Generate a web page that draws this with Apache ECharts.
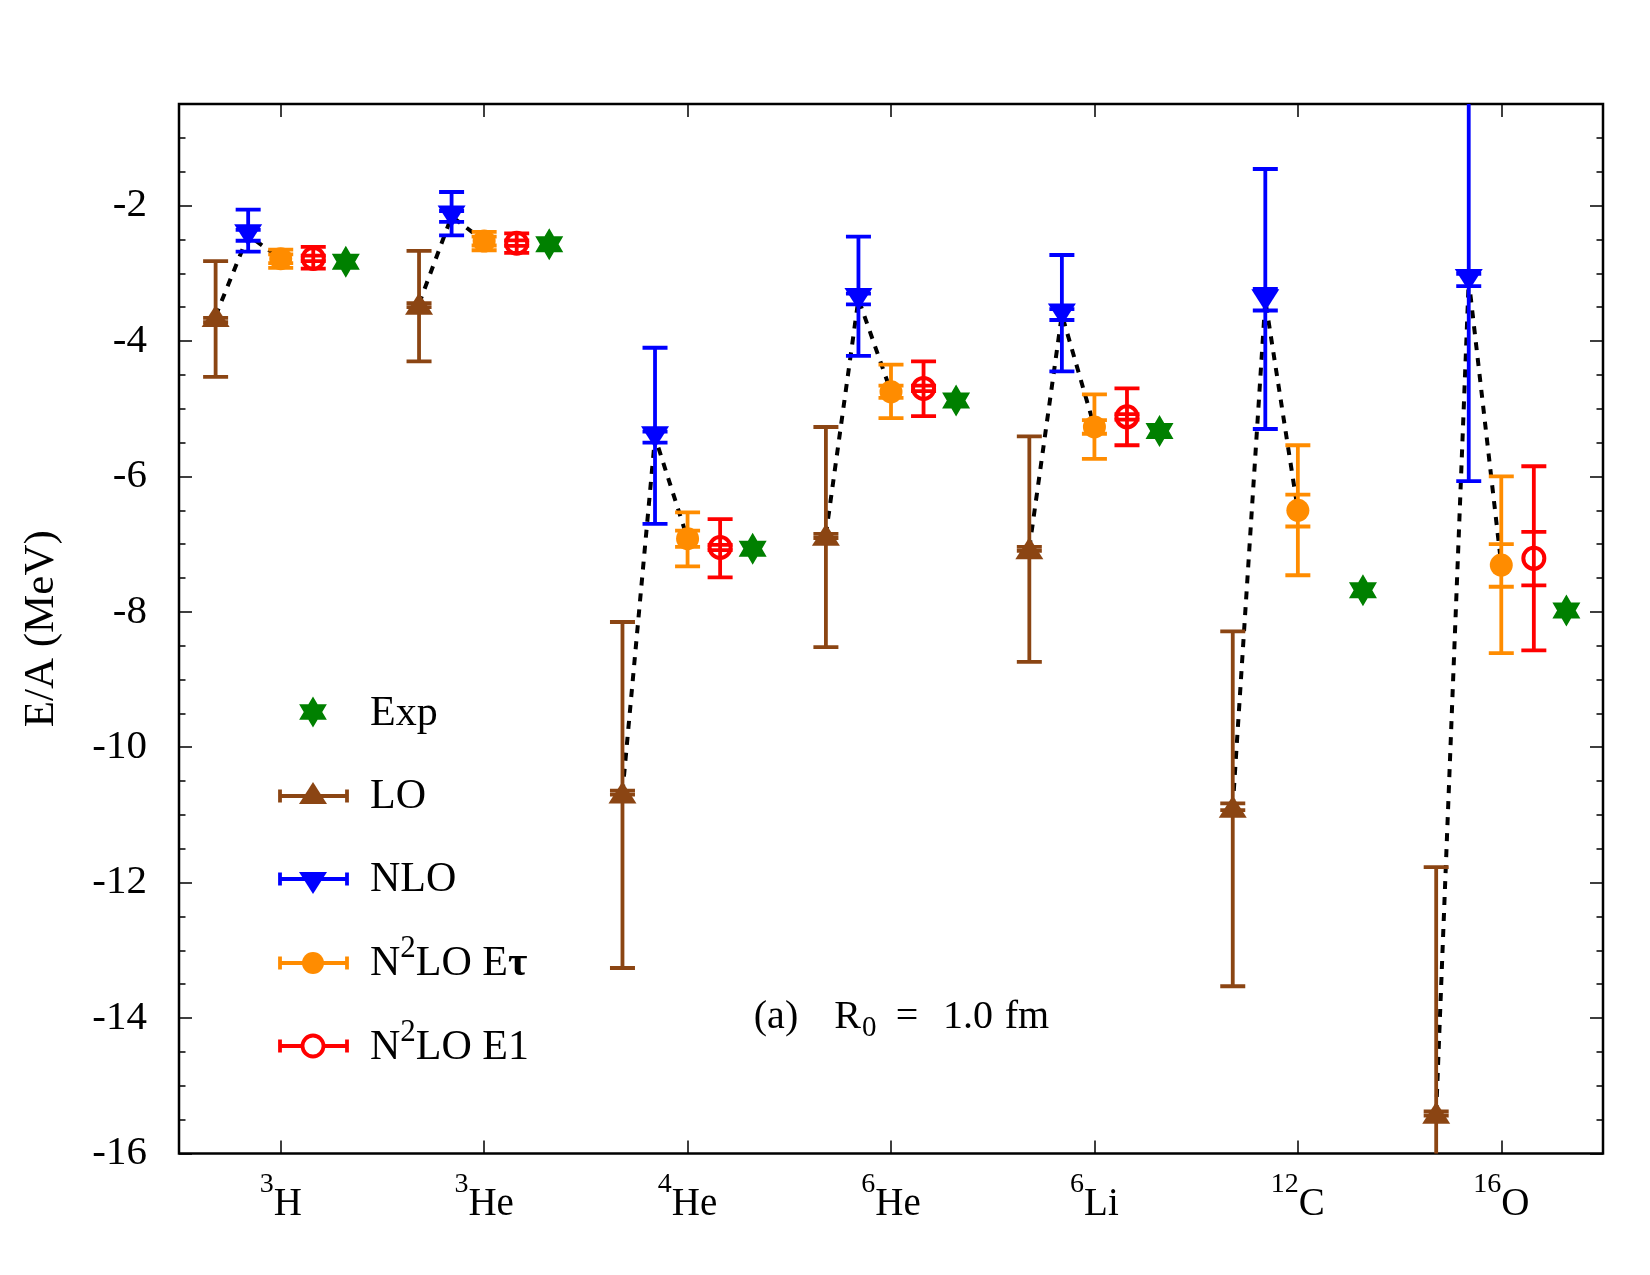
<!DOCTYPE html>
<html><head><meta charset="utf-8">
<script src="https://cdn.jsdelivr.net/npm/echarts@6/dist/echarts.min.js"></script>
<style>html,body{margin:0;padding:0;background:#fff}#c{width:1650px;height:1275px}</style>
</head><body><div id="c"></div>
<script>
// ---------------- data ----------------
const massNumbers    = ['3', '3', '4', '6', '6', '12', '16'];
const elementSymbols = ['H', 'He', 'He', 'He', 'Li', 'C', 'O'];
const nucleusNames   = ['3H', '3He', '4He', '6He', '6Li', '12C', '16O'];

const expValues = [-2.83, -2.57, -7.07, -4.88, -5.33, -7.68, -7.98];

const loValues     = [-3.63, -3.45, -10.67, -6.86, -7.06, -10.88, -15.40];
const loOuterLow   = [-4.53, -4.30, -13.26, -8.52, -8.74, -13.53, -19.20];
const loOuterHigh  = [-2.82, -2.67, -8.15, -5.27, -5.41, -8.29, -11.77];
const loInnerLow   = [-3.72, -3.50, -10.70, -6.91, -7.10, -10.93, -15.44];
const loInnerHigh  = [-3.66, -3.44, -10.64, -6.85, -7.04, -10.83, -15.38];

const nloValues    = [-2.44, -2.16, -5.42, -3.38, -3.61, -3.40, -3.10];
const nloOuterLow  = [-2.68, -2.44, -6.70, -4.22, -4.45, -5.30, -6.07];
const nloOuterHigh = [-2.06, -1.80, -4.10, -2.46, -2.73, -1.46, -0.10];
const nloInnerLow  = [-2.52, -2.24, -5.50, -3.46, -3.69, -3.55, -3.19];
const nloInnerHigh = [-2.36, -2.08, -5.34, -3.30, -3.53, -3.23, -3.01];

const tauValues    = [-2.785, -2.525, -6.92, -4.75, -5.27, -6.50, -7.31];
const tauOuterLow  = [-2.92, -2.66, -7.33, -5.14, -5.74, -7.46, -8.61];
const tauOuterHigh = [-2.65, -2.39, -6.53, -4.35, -4.79, -5.54, -6.00];
const tauInnerLow  = [-2.85, -2.59, -7.04, -4.84, -5.37, -6.74, -7.63];
const tauInnerHigh = [-2.72, -2.46, -6.80, -4.66, -5.17, -6.27, -7.00];

const e1Values     = [-2.78, -2.555, -7.05, -4.70, -5.12, null, -7.21];
const e1OuterLow   = [-2.93, -2.70, -7.49, -5.11, -5.54, null, -8.57];
const e1OuterHigh  = [-2.61, -2.41, -6.63, -4.30, -4.70, null, -5.85];
const e1InnerLow   = [-2.82, -2.595, -7.09, -4.74, -5.16, null, -7.61];
const e1InnerHigh  = [-2.74, -2.515, -7.01, -4.66, -5.08, null, -6.82];

// ---------------- layout / style ----------------
const OFFSET = { lo: -0.32, nlo: -0.16, tau: 0, e1: 0.16, exp: 0.32 };
const COLORS = { lo: '#8B4513', nlo: '#0000FF', tau: '#FF8C00', e1: '#FF0000', exp: '#008000' };
const FONT = "'Liberation Serif', 'DejaVu Serif', serif";
const CAP_HALF = 12.5;
const BAR_W = 3.8;

function hexagramPts(cx, cy, sx, sy) {
  const pts = [];
  for (let k = 0; k < 12; k++) {
    const a = (-90 + k * 30) * Math.PI / 180;
    const rad = k % 2 === 0 ? 1 : 1 / Math.sqrt(3);
    pts.push([cx + sx * rad * Math.cos(a), cy + sy * rad * Math.sin(a)]);
  }
  return pts;
}
const STAR = 'M' + hexagramPts(0, 0, 10, 10).map(p => p[0].toFixed(3) + ' ' + p[1].toFixed(3)).join(' L') + ' Z';

function rows(vals, oLo, oHi, iLo, iHi, off) {
  const out = [];
  vals.forEach((v, i) => {
    if (v === null) return;
    out.push([i + 1 + off, v, oLo[i], oHi[i], iLo[i], iHi[i]]);
  });
  return out;
}
function points(vals, off) {
  const out = [];
  vals.forEach((v, i) => { if (v !== null) out.push([i + 1 + off, v]); });
  return out;
}

function errorSeries(color, data) {
  return {
    type: 'custom', xAxisIndex: 0, yAxisIndex: 0, clip: true, z: 3, silent: true,
    data: data,
    encode: { x: 0, y: [1, 2, 3, 4, 5] },
    renderItem: function (params, api) {
      const x = api.value(0);
      const p = [2, 3, 4, 5].map(k => api.coord([x, api.value(k)]));
      const style = { stroke: color, lineWidth: BAR_W, fill: null };
      const children = [{ type: 'line', shape: { x1: p[0][0], y1: p[0][1], x2: p[1][0], y2: p[1][1] }, style: style }];
      p.forEach(q => children.push({ type: 'line', shape: { x1: q[0] - CAP_HALF, y1: q[1], x2: q[0] + CAP_HALF, y2: q[1] }, style: style }));
      return { type: 'group', children: children };
    }
  };
}

const connectorData = nucleusNames.map((n, i) => [i + 1, loValues[i], nloValues[i], tauValues[i]]);

const series = [
  {
    type: 'custom', xAxisIndex: 0, yAxisIndex: 0, clip: true, z: 2, silent: true,
    data: connectorData,
    encode: { x: 0, y: [1, 2, 3] },
    renderItem: function (params, api) {
      const c = api.value(0);
      const a = api.coord([c + OFFSET.lo, api.value(1)]);
      const b = api.coord([c + OFFSET.nlo, api.value(2)]);
      const d = api.coord([c + OFFSET.tau, api.value(3)]);
      return { type: 'polyline', shape: { points: [a, b, d] },
               style: { stroke: '#000', lineWidth: 4, lineDash: [8, 8], fill: null } };
    }
  },
  errorSeries(COLORS.lo, rows(loValues, loOuterLow, loOuterHigh, loInnerLow, loInnerHigh, OFFSET.lo)),
  errorSeries(COLORS.nlo, rows(nloValues, nloOuterLow, nloOuterHigh, nloInnerLow, nloInnerHigh, OFFSET.nlo)),
  errorSeries(COLORS.tau, rows(tauValues, tauOuterLow, tauOuterHigh, tauInnerLow, tauInnerHigh, OFFSET.tau)),
  errorSeries(COLORS.e1, rows(e1Values, e1OuterLow, e1OuterHigh, e1InnerLow, e1InnerHigh, OFFSET.e1)),
  { type: 'scatter', z: 4, silent: true, symbol: 'triangle', symbolSize: [28, 22],
    itemStyle: { color: COLORS.lo, opacity: 1 }, data: points(loValues, OFFSET.lo) },
  { type: 'scatter', z: 4, silent: true, symbol: 'triangle', symbolRotate: 180, symbolSize: [28, 22],
    itemStyle: { color: COLORS.nlo, opacity: 1 }, data: points(nloValues, OFFSET.nlo) },
  { type: 'scatter', z: 4, silent: true, symbol: 'circle', symbolSize: 23,
    itemStyle: { color: COLORS.tau, opacity: 1 }, data: points(tauValues, OFFSET.tau) },
  { type: 'scatter', z: 4, silent: true, symbol: 'circle', symbolSize: 21,
    itemStyle: { color: 'rgba(0,0,0,0)', borderColor: COLORS.e1, borderWidth: 4, opacity: 1 }, data: points(e1Values, OFFSET.e1) },
  { type: 'scatter', z: 4, silent: true, symbol: 'path://' + STAR, symbolSize: [28, 32],
    itemStyle: { color: COLORS.exp, opacity: 1 }, data: points(expValues, OFFSET.exp) }
];

const tickStyle = { color: '#000', width: 1.5 };
function yAx(pos, interval, len, labels) {
  const ax = {
    type: 'value', min: -16, max: -0.5, interval: interval, position: pos,
    axisLine: { show: false }, splitLine: { show: false },
    axisTick: { show: true, inside: true, length: len, lineStyle: tickStyle },
    axisLabel: { show: false }
  };
  if (labels) {
    ax.axisLabel = { show: true, showMaxLabel: false, margin: 32, fontSize: 41, fontFamily: FONT, color: '#000' };
    ax.name = 'E/A (MeV)';
    ax.nameLocation = 'middle';
    ax.nameGap = 116;
    ax.nameRotate = 90;
    ax.nameTextStyle = { fontSize: 43, fontFamily: FONT, color: '#000' };
  }
  return ax;
}
function xCat(pos, labels) {
  return {
    type: 'category', data: nucleusNames, position: pos, boundaryGap: true, gridIndex: 0,
    axisLine: { show: false }, splitLine: { show: false },
    axisTick: { show: true, inside: true, alignWithLabel: true, length: 13, lineStyle: tickStyle },
    axisLabel: labels ? {
      show: true, interval: 0, margin: 17,
      formatter: (v, i) => '{s|' + massNumbers[i] + '}{m|' + elementSymbols[i] + '}',
      rich: {
        s: { fontSize: 28, fontFamily: FONT, color: '#000', padding: [0, 0, 40, 0] },
        m: { fontSize: 39, fontFamily: FONT, color: '#000' }
      }
    } : { show: false }
  };
}

// legend (drawn as graphic)
const LEG_X0 = 280, LEG_X1 = 347, LEG_MX = 313, LEG_TX = 370;
function legendBar(y, color) {
  const st = { stroke: color, lineWidth: BAR_W };
  return [
    { type: 'line', shape: { x1: LEG_X0, y1: y, x2: LEG_X1, y2: y }, style: st },
    { type: 'line', shape: { x1: LEG_X0, y1: y - 6.5, x2: LEG_X0, y2: y + 6.5 }, style: st },
    { type: 'line', shape: { x1: LEG_X1, y1: y - 6.5, x2: LEG_X1, y2: y + 6.5 }, style: st }
  ];
}
function legendText(y, text, rich) {
  const st = { text: text, fontSize: 42, fontFamily: FONT, fill: '#000', align: 'left', verticalAlign: 'middle' };
  if (rich) st.rich = rich;
  return { type: 'text', x: LEG_TX, y: y, style: st };
}
const supRich = {
  m: { fontSize: 42, fontFamily: FONT, fill: '#000' },
  s: { fontSize: 31, fontFamily: FONT, fill: '#000', padding: [0, 0, 30, 0] },
  t: { fontSize: 42, fontFamily: FONT, fill: '#000', fontWeight: 'bold' }
};
function annText(x, y, text, size, align) {
  return { type: 'text', x: x, y: y, style: { text: text, fontSize: size, fontFamily: FONT, fill: '#000', align: align || 'center', verticalAlign: 'middle' } };
}

const graphics = [].concat(
  [{ type: 'polygon', shape: { points: hexagramPts(LEG_MX, 712, 16, 15.5) }, style: { fill: COLORS.exp } },
   legendText(714, 'Exp')],
  legendBar(796, COLORS.lo),
  [{ type: 'polygon', shape: { points: [[LEG_MX - 14, 804], [LEG_MX + 14, 804], [LEG_MX, 782]] }, style: { fill: COLORS.lo } },
   legendText(797, 'LO')],
  legendBar(879, COLORS.nlo),
  [{ type: 'polygon', shape: { points: [[LEG_MX - 14, 872], [LEG_MX + 14, 872], [LEG_MX, 894]] }, style: { fill: COLORS.nlo } },
   legendText(880, 'NLO')],
  legendBar(963, COLORS.tau),
  [{ type: 'circle', shape: { cx: LEG_MX, cy: 963, r: 11 }, style: { fill: COLORS.tau } },
   legendText(964, '{m|N}{s|2}{m|LO E}{t|τ}', supRich)],
  legendBar(1046, COLORS.e1),
  [{ type: 'circle', shape: { cx: LEG_MX, cy: 1046, r: 10.5 }, style: { fill: '#fff', stroke: COLORS.e1, lineWidth: 3.8 } },
   legendText(1048, '{m|N}{s|2}{m|LO E1}', supRich)],
  [
    annText(776, 1017, '(a)', 40),
    annText(861, 1017, 'R', 40, 'right'),
    annText(862, 1028, '0', 29, 'left'),
    annText(907, 1017, '=', 40),
    annText(968, 1017, '1.0', 40),
    annText(1027, 1017, 'fm', 40)
  ]
);

const option = {
  animation: false,
  backgroundColor: '#fff',
  grid: { left: 179, top: 104, width: 1424, height: 1049.5, show: true, borderColor: '#000', borderWidth: 2.5,
          containLabel: false, outerBoundsMode: 'none' },
  xAxis: [
    { type: 'value', min: 0.5, max: 7.5, show: false, gridIndex: 0 },
    xCat('bottom', true),
    xCat('top', false)
  ],
  yAxis: [
    yAx('left', 2, 13, true),
    yAx('left', 0.5, 6.5, false),
    yAx('right', 2, 13, false),
    yAx('right', 0.5, 6.5, false)
  ],
  series: series,
  graphic: { elements: graphics }
};

const chart = echarts.init(document.getElementById('c'), null, { renderer: 'canvas' });
chart.setOption(option);
</script>
</body></html>
